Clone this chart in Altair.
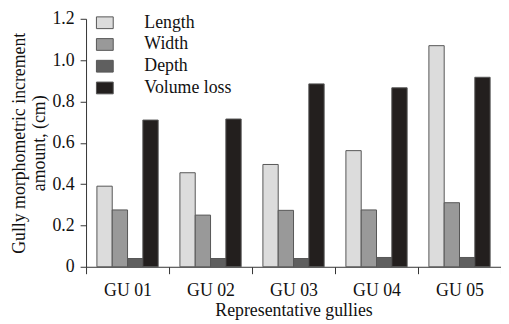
import altair as alt
import pandas as pd

gullies = ["GU 01", "GU 02", "GU 03", "GU 04", "GU 05"]
series = ["Length", "Width", "Depth", "Volume loss"]
length = [0.39, 0.455, 0.495, 0.562, 1.07]
width_v = [0.275, 0.25, 0.273, 0.275, 0.31]
depth = [0.04, 0.04, 0.04, 0.045, 0.045]
volume = [0.71, 0.715, 0.885, 0.866, 0.917]
colors = ["#dcdcdc", "#999999", "#5f5f5f", "#231f1e"]

rows = []
for name, vals in zip(series, [length, width_v, depth, volume]):
    for g, v in zip(gullies, vals):
        rows.append({"gully": g, "series": name, "value": v})
df = pd.DataFrame(rows)

font = "Liberation Serif"

chart = alt.Chart(df).mark_bar(stroke="#555555", strokeWidth=1).encode(
    x=alt.X("gully:N", sort=gullies,
            scale=alt.Scale(paddingInner=0, paddingOuter=0),
            axis=alt.Axis(title="Representative gullies", labelAngle=0, tickBand="extent",
                          tickSize=7, labelPadding=8, titlePadding=2, domainColor="#333333",
                          tickColor="#333333")),
    xOffset=alt.XOffset("series:N", sort=series,
                        scale=alt.Scale(paddingOuter=0.71, paddingInner=0, align=0.5)),
    y=alt.Y("value:Q", scale=alt.Scale(domain=[0, 1.2]),
            axis=alt.Axis(title=["Gully morphometric increment", "amount, (cm)"],
                          values=[0, 0.2, 0.4, 0.6, 0.8, 1.0, 1.2],
                          labelExpr="datum.value == 0 ? '0' : format(datum.value, '.1f')",
                          tickSize=6, labelPadding=6, titlePadding=4, grid=False,
                          domainColor="#333333", tickColor="#333333")),
    color=alt.Color("series:N", sort=series,
                    scale=alt.Scale(domain=series, range=colors),
                    legend=alt.Legend(title=None, orient="none", legendX=10, legendY=-5,
                                      symbolType="M-1,-0.7H1V0.7H-1Z", symbolSize=289,
                                      symbolStrokeColor="#555555", symbolStrokeWidth=1,
                                      labelOffset=31, rowPadding=4,
                                      labelFont=font, labelFontSize=18, labelColor="#111111")),
).properties(
    width=420, height=251,
    autosize=alt.AutoSizeParams(type="none"),
    padding={"left": 79, "top": 9, "right": 0, "bottom": 56},
).configure_view(stroke=None).configure_axis(
    labelFont=font, titleFont=font, labelFontSize=18, titleFontSize=18,
    titleFontWeight="normal", labelColor="#111111", titleColor="#111111",
)

chart.save("out.html", embed_options={"renderer": "svg", "actions": False})
